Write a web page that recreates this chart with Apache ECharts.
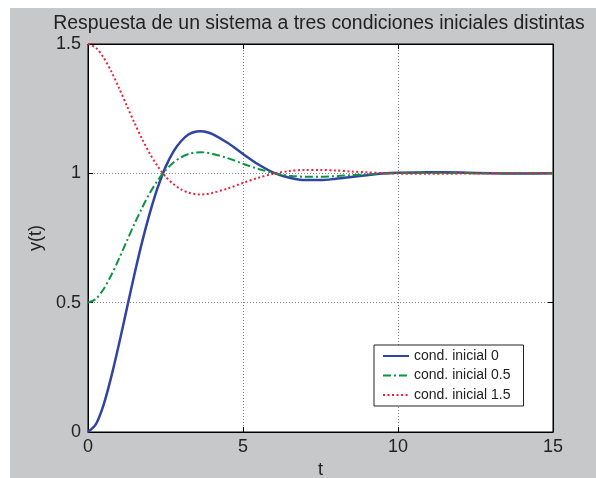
<!DOCTYPE html>
<html>
<head>
<meta charset="utf-8">
<script src="https://cdn.jsdelivr.net/npm/echarts@6/dist/echarts.min.js"></script>
<style>
html,body{margin:0;padding:0;background:#fff;overflow:hidden;}
#bg{position:absolute;left:10px;top:8px;width:586px;height:470px;background:#c7c8ca;}
#chart{position:absolute;left:0;top:0;width:596px;height:478px;}
</style>
</head>
<body>
<div id="bg"></div>
<div id="chart"></div>
<script>
const titleText = 'Respuesta de un sistema a tres condiciones iniciales distintas';
const seriesNames = ['cond. inicial 0', 'cond. inicial 0.5', 'cond. inicial 1.5'];
const t = [0,0.25,0.5,0.75,1,1.25,1.5,1.75,2,2.25,2.5,2.75,3,3.25,3.5,3.625,3.75,4,4.5,5,5.5,6,6.5,7,7.5,8,8.5,9,9.5,10,11,12,13,14,15];
const y0 = [0,0.029,0.104,0.213,0.340,0.476,0.611,0.737,0.849,0.946,1.024,1.083,1.124,1.151,1.162,1.163,1.162,1.153,1.118,1.075,1.034,1.002,0.983,0.974,0.974,0.979,0.986,0.993,0.999,1.002,1.004,1.003,1.000,0.999,1.000];
const y05 = [0.5,0.514,0.552,0.606,0.670,0.738,0.805,0.868,0.925,0.973,1.012,1.041,1.062,1.075,1.081,1.0815,1.081,1.076,1.059,1.037,1.017,1.001,0.991,0.987,0.987,0.989,0.993,0.996,0.999,1.001,1.002,1.001,1.000,1.000,1.000];
const y15 = [1.5,1.486,1.448,1.394,1.330,1.262,1.195,1.132,1.075,1.027,0.988,0.959,0.938,0.925,0.919,0.9185,0.919,0.924,0.941,0.963,0.983,0.999,1.009,1.013,1.013,1.011,1.007,1.004,1.001,0.999,0.998,0.999,1.000,1.000,1.000];
const xTicks = [0,5,10,15];
const yTicks = [0,0.5,1,1.5];

const pairs = ys => t.map((v,i)=>[v, ys[i]]);
const font = 'Liberation Sans, Arial, sans-serif';

const chart = echarts.init(document.getElementById('chart'), null, {renderer:'canvas', width:596, height:478});
const axisCommon = () => ({
  axisLine:{show:true, onZero:false, lineStyle:{color:'#000', width:1}},
  axisTick:{show:true, inside:true, length:5, lineStyle:{color:'#000', width:1}},
});
chart.setOption({
  backgroundColor:'transparent',
  animation:false,
  title:{text:titleText, left:314, top:9, textAlign:'center',
    textStyle:{fontFamily:font, fontSize:19.4, fontWeight:'normal', color:'#222'}},
  grid:{left:88, top:44, width:465, height:388, show:true, backgroundColor:'#fff', borderColor:'#000', borderWidth:1,
    containLabel:false, outerBoundsMode:'none'},
  legend:{
    orient:'vertical', left:374, top:345, data:seriesNames,
    backgroundColor:'#fff', borderColor:'#222', borderWidth:1,
    padding:[4,13,4,8], itemGap:5.5, itemWidth:26, itemHeight:14,
    itemStyle:{opacity:0},
    textStyle:{fontFamily:font, fontSize:14, color:'#222'}
  },
  xAxis:[
    Object.assign({type:'value', min:0, max:15, interval:5, position:'bottom',
      name:'t', nameLocation:'middle', nameGap:21,
      nameTextStyle:{fontFamily:font, fontSize:18, color:'#222'},
      axisLabel:{fontFamily:font, fontSize:18, color:'#222', margin:6, formatter:v=>xTicks.includes(v)?String(v):''},
      splitLine:{show:true, lineStyle:{color:'#888', type:[1,2], width:1}}}, axisCommon()),
    Object.assign({type:'value', min:0, max:15, interval:5, position:'top',
      axisLabel:{show:false}, splitLine:{show:false}}, axisCommon())
  ],
  yAxis:[
    Object.assign({type:'value', min:0, max:1.5, interval:0.5, position:'left',
      name:'y(t)', nameLocation:'middle', nameGap:25,
      nameTextStyle:{fontFamily:font, fontSize:18, color:'#222'},
      axisLabel:{fontFamily:font, fontSize:18, color:'#222', margin:7, formatter:v=>yTicks.includes(v)?String(v):''},
      splitLine:{show:true, lineStyle:{color:'#888', type:[1,2], width:1}}}, axisCommon()),
    Object.assign({type:'value', min:0, max:1.5, interval:0.5, position:'right',
      axisLabel:{show:false}, splitLine:{show:false}}, axisCommon())
  ],
  series:[
    {name:seriesNames[0], type:'line', data:pairs(y0), symbol:'none', smooth:0.3,
      lineStyle:{color:'#3044a2', width:2.5, type:'solid'}, itemStyle:{color:'#3044a2'}},
    {name:seriesNames[1], type:'line', data:pairs(y05), symbol:'none', smooth:0.3,
      lineStyle:{color:'#0b9444', width:2, type:[8,3,2,3]}, itemStyle:{color:'#0b9444'}},
    {name:seriesNames[2], type:'line', data:pairs(y15), symbol:'none', smooth:0.3,
      lineStyle:{color:'#ec2138', width:2, type:[2,2.5]}, itemStyle:{color:'#ec2138'}}
  ]
});
</script>
</body>
</html>
